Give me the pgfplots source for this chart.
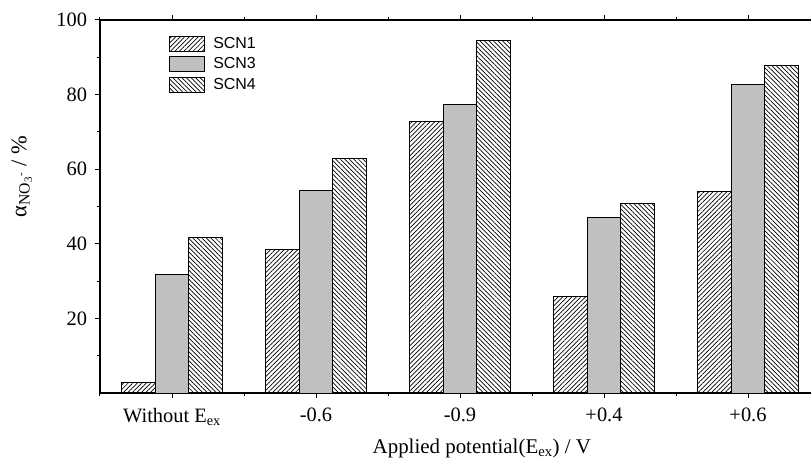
\documentclass[border=0pt]{standalone}
\usepackage{fontspec}
\setmainfont{Liberation Serif}
\newfontfamily\arial{Liberation Sans}
\usepackage{pgfplots}
\pgfplotsset{compat=1.18}
\usetikzlibrary{patterns.meta}

\definecolor{scngray}{RGB}{192,192,192}

\begin{document}
\begin{tikzpicture}
\useasboundingbox (-100bp,-73bp) rectangle (711bp,393bp);
\begin{axis}[
    at={(0,0)}, anchor=south west,
    scale only axis,
    width=711bp, height=373bp,
    ybar=0pt,
    bar width=0.233,
    xmin=-0.5, xmax=4.4375,
    ymin=0, ymax=100,
    axis x line=box,
    axis y line*=left,
    y axis line style={-},
    axis line style={line width=1.1bp},
    tick align=outside,
    xtick={0,1,2,3,4},
    xticklabels={Without E\textsubscript{ex}, -0.6, -0.9, +0.4, +0.6},
    minor xtick={-0.5,0.5,1.5,2.5,3.5},
    ytick={20,40,60,80,100},
    minor ytick={10,30,50,70,90},
    major tick length=4.5bp, minor tick length=3bp,
    tick style={black, line width=1bp},
    tick label style={font=\fontsize{20.5}{22}\selectfont},
    xticklabel style={yshift=-7bp},
    yticklabel style={xshift=-5bp},
    /pgf/number format/assume math mode=true,
    xlabel={Applied potential(E\textsubscript{ex}) / V},
    xlabel style={at={(axis description cs:0.537,-0.148)}, anchor=center, font=\fontsize{21}{23}\selectfont},
    ylabel={α\textsubscript{NO\textsubscript{3}\textsuperscript{-}} / \%},
    ylabel style={at={(axis description cs:-0.11,0.58)}, anchor=center, font=\fontsize{22.5}{24}\selectfont},
    legend style={at={(axis description cs:0.093,0.965)}, anchor=north west,
        draw=none, fill=none, font=\arial\fontsize{16}{18}\selectfont,
        row sep=4bp, legend cell align=left},
    legend image code/.code={\draw[#1] (0bp,-7.5bp) rectangle (35bp,7.5bp);},
]
% SCN1
\addplot[draw=black, line width=1bp,
    pattern={Lines[angle=45,distance=3.2bp,line width=0.7bp]}]
    coordinates {(0,2.9) (1,38.6) (2,72.9) (3,26.0) (4,53.9)};
% SCN3
\addplot[draw=black, line width=1bp, fill=scngray]
    coordinates {(0,31.9) (1,54.2) (2,77.4) (3,47.0) (4,82.8)};
% SCN4
\addplot[draw=black, line width=1bp,
    pattern={Lines[angle=-45,distance=3.2bp,line width=0.7bp]}]
    coordinates {(0,41.6) (1,63.0) (2,94.6) (3,50.9) (4,87.9)};
\legend{\hspace{6bp}SCN1, \hspace{6bp}SCN3, \hspace{6bp}SCN4}
\end{axis}
\end{tikzpicture}
\end{document}
